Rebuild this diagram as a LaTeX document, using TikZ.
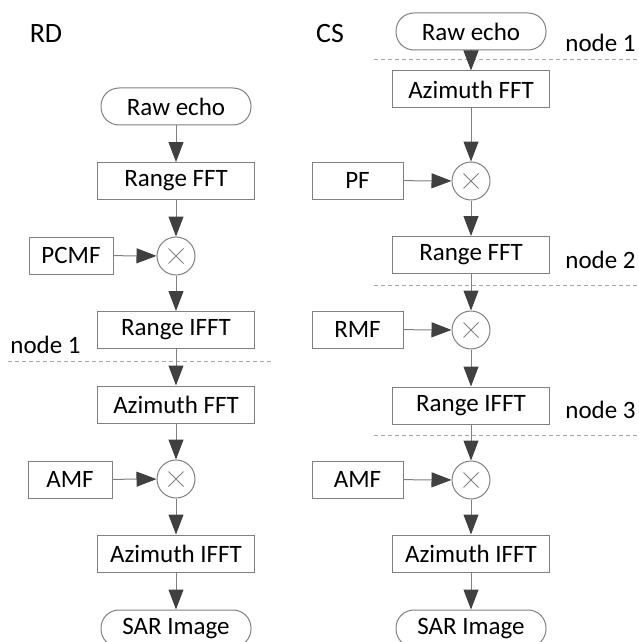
\documentclass[tikz,border=0pt]{standalone}
\usepackage{fontspec}
\setmainfont{Carlito}
\usepackage{tikz}
\usetikzlibrary{arrows.meta}
\definecolor{linegray}{HTML}{808080}
\definecolor{tipgray}{HTML}{404040}
\definecolor{dashgray}{HTML}{A6A6A6}
\tikzset{
  block/.style={draw=linegray,line width=0.5pt,minimum width=78.5pt,minimum height=18.5pt,inner sep=0pt,font=\fontsize{12.5}{15}\selectfont},
  filt/.style={block,minimum width=#1},
  term/.style={block,minimum width=75pt,rounded corners=9pt},
  mixer/.style={circle,draw=linegray,line width=0.5pt,minimum size=19pt,inner sep=0pt,
    path picture={
      \draw[linegray,line width=0.4pt] ([shift={(-3.75pt,-3.75pt)}]path picture bounding box.center) -- ([shift={(3.75pt,3.75pt)}]path picture bounding box.center);
      \draw[linegray,line width=0.4pt] ([shift={(-3.75pt,3.75pt)}]path picture bounding box.center) -- ([shift={(3.75pt,-3.75pt)}]path picture bounding box.center);
    }},
  flow/.style={draw=linegray,line width=0.5pt,-{Triangle[length=10pt,width=7.5pt,color=tipgray]}},
  cut/.style={draw=dashgray,line width=0.5pt,dash pattern=on 2pt off 1.5pt},
  title/.style={font=\fontsize{14}{17}\selectfont},
  tag/.style={anchor=west,inner sep=0pt,font=\fontsize{12.5}{15}\selectfont}
}
\begin{document}
\begin{tikzpicture}[x=0.5pt,y=-0.5pt]
    \useasboundingbox (0,0) rectangle (638,642);
    \begin{scope}
      \node[title] (rdTitle) at (46,34) {RD};
      \node[term] (rdEcho) at (176,106.5) {Raw echo};
      \node[block] (rdRfft) at (176,181) {Range FFT};
      \node[mixer] (rdMixA) at (176,256) {};
      \node[filt=42pt] (rdPcmf) at (71,255.5) {PCMF};
      \node[block] (rdRifft) at (176,330) {Range IFFT};
      \node[tag] (rdCutA) at (10,345) {node 1};
      \draw[cut] (8,361) -- (273,361);
      \node[block] (rdAfft) at (176,404.5) {Azimuth FFT};
      \node[mixer] (rdMixB) at (176,479) {};
      \node[filt=42pt] (rdAmf) at (70,479.5) {AMF};
      \node[block] (rdAifft) at (176,553.5) {Azimuth IFFT};
      \node[term] (rdSar) at (176,628.5) {SAR Image};
      \draw[flow] (rdEcho) -- (rdRfft);
      \draw[flow] (rdRfft) -- (rdMixA);
      \draw[flow] (rdPcmf) -- (rdMixA);
      \draw[flow] (rdMixA) -- (rdRifft);
      \draw[flow] (rdRifft) -- (rdAfft);
      \draw[flow] (rdAfft) -- (rdMixB);
      \draw[flow] (rdAmf) -- (rdMixB);
      \draw[flow] (rdMixB) -- (rdAifft);
      \draw[flow] (rdAifft) -- (rdSar);
    \end{scope}
    \begin{scope}
      \node[title] (csTitle) at (330,34) {CS};
      \node[term] (csEcho) at (471,31.5) {Raw echo};
      \node[tag] (csCutA) at (565,43) {node 1};
      \draw[cut] (374,60) -- (638,60);
      \node[block] (csAfft) at (471,89.5) {Azimuth FFT};
      \node[mixer] (csMixA) at (471,181) {};
      \node[filt=45.5pt] (csPf) at (357.5,180.5) {PF};
      \node[block] (csRfft) at (471,255) {Range FFT};
      \node[tag] (csCutB) at (565,260) {node 2};
      \draw[cut] (374,285) -- (638,285);
      \node[mixer] (csMixB) at (471,330) {};
      \node[filt=45.5pt] (csRmf) at (357.5,329.5) {RMF};
      \node[block] (csRifft) at (471,405.5) {Range IFFT};
      \node[tag] (csCutC) at (565,410) {node 3};
      \draw[cut] (374,435) -- (638,435);
      \node[mixer] (csMixC) at (471,480) {};
      \node[filt=45.5pt] (csAmf) at (357.5,479.5) {AMF};
      \node[block] (csAifft) at (471,553.5) {Azimuth IFFT};
      \node[term] (csSar) at (471,628.5) {SAR Image};
      \draw[flow] (csEcho) -- (csAfft);
      \draw[flow] (csAfft) -- (csMixA);
      \draw[flow] (csPf) -- (csMixA);
      \draw[flow] (csMixA) -- (csRfft);
      \draw[flow] (csRfft) -- (csMixB);
      \draw[flow] (csRmf) -- (csMixB);
      \draw[flow] (csMixB) -- (csRifft);
      \draw[flow] (csRifft) -- (csMixC);
      \draw[flow] (csAmf) -- (csMixC);
      \draw[flow] (csMixC) -- (csAifft);
      \draw[flow] (csAifft) -- (csSar);
    \end{scope}
  \end{tikzpicture}
\end{document}
